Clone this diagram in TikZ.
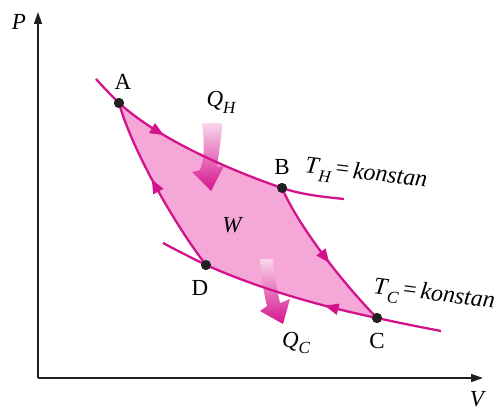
\documentclass[tikz,border=0pt]{standalone}
\usepackage{fontspec}
\setmainfont{Liberation Serif}
\usetikzlibrary{arrows.meta,decorations.markings}
\definecolor{mag}{RGB}{212,18,140}
\definecolor{pinkfill}{RGB}{245,168,215}
\definecolor{axisc}{RGB}{35,31,32}
\definecolor{qtop}{RGB}{249,214,235}
\newcommand\lsub[1]{\raisebox{-0.3em}{\fontsize{17}{17}\selectfont\itshape #1}}
\begin{document}
\begin{tikzpicture}[x=1pt,y=-1pt,
  dot/.style={circle,fill=axisc,inner sep=0pt,minimum size=10pt},
  lbl/.style={font=\fontsize{23}{26}\selectfont,inner sep=0pt},
  klbl/.style={font=\fontsize{24}{28}\selectfont,inner sep=0pt,rotate=-7},
  cyc/.style={draw=mag,line width=2.3pt},
  axis/.style={draw=axisc,line width=1.4pt,-{Triangle[length=12pt,width=8pt]}},
  midarrow/.style={decoration={markings,mark=at position #1 with {\arrow{Triangle[length=14pt,width=11pt]}}},postaction=decorate},
  qarrow/.style={top color=qtop,bottom color=mag,draw=none}
]
\useasboundingbox (0,0) rectangle (500,412);

% points
\node[dot] (A) at (119,103) {};
\node[dot] (B) at (282,188) {};
\node[dot] (C) at (377,318) {};
\node[dot] (D) at (206,265) {};
\coordinate (Hs) at (96,79);
\coordinate (He) at (344,199);
\coordinate (Cs) at (163,243);
\coordinate (Ce) at (441,331);

% fill of the cycle
\fill[pinkfill] (A.center) .. controls (160,140) and (230,170) .. (B.center)
  .. controls (298,225) and (340,280) .. (C.center)
  .. controls (320,306) and (260,289) .. (D.center)
  .. controls (175,225) and (132,150) .. (A.center) -- cycle;

% heat arrows
\shade[qarrow] (202,123) .. controls (205,145) and (204,160) .. (200,170)
  -- (192,172) -- (211,191) -- (224,166) -- (217,167)
  .. controls (219,150) and (222,135) .. (222,123) -- cycle;
\shade[qarrow] (260,259) .. controls (262,280) and (264,295) .. (267,306)
  -- (260,311) -- (283,324) -- (290,299) -- (280,303)
  .. controls (277,290) and (274,275) .. (273,259) -- cycle;

% isotherms
\draw[cyc] (Hs) .. controls (105,89) and (112,96) .. (A.center);
\draw[cyc,midarrow=0.3] (A.center) .. controls (160,140) and (230,170) .. (B.center);
\draw[cyc] (B.center) .. controls (303,195) and (325,197) .. (He);
\draw[cyc] (Cs) .. controls (178,251) and (192,258) .. (D.center);
\draw[cyc,midarrow=0.3] (C.center) .. controls (320,306) and (260,289) .. (D.center);
\draw[cyc] (C.center) .. controls (400,323) and (420,327) .. (Ce);
% adiabats
\draw[cyc,midarrow=0.55] (B.center) .. controls (298,225) and (340,280) .. (C.center);
\draw[cyc,midarrow=0.55] (D.center) .. controls (175,225) and (132,150) .. (A.center);

% redraw dots on top
\node[dot] at (A) {};
\node[dot] at (B) {};
\node[dot] at (C) {};
\node[dot] at (D) {};

% axes
\coordinate (O) at (38,378);
\coordinate (Ptip) at (38,12);
\coordinate (Vtip) at (483,378);
\draw[axis] (O) -- (Ptip);
\draw[axis] (O) -- (Vtip);

% labels
\node[lbl] (lP) at (19,22) {\itshape P};
\node[lbl] (lV) at (477,399) {\itshape V};
\node[lbl] (lA) at (123,82) {A};
\node[lbl] (lB) at (282,167) {B};
\node[lbl] (lC) at (377,341) {C};
\node[lbl] (lD) at (200,288) {D};
\node[lbl] (lW) at (232,225) {\itshape W};
\node[lbl] (lQH) at (221,102) {\itshape Q\lsub{H}};
\node[lbl] (lQC) at (296,343) {\itshape Q\lsub{C}};
\node[klbl] (lTH) at (366,175) {{\itshape T}\kern1pt\lsub{H}\kern4pt=\kern4pt{\itshape konstan}};
\node[klbl] (lTC) at (434,296) {{\itshape T}\kern1pt\lsub{C}\kern4pt=\kern4pt{\itshape konstan}};
\end{tikzpicture}
\end{document}
